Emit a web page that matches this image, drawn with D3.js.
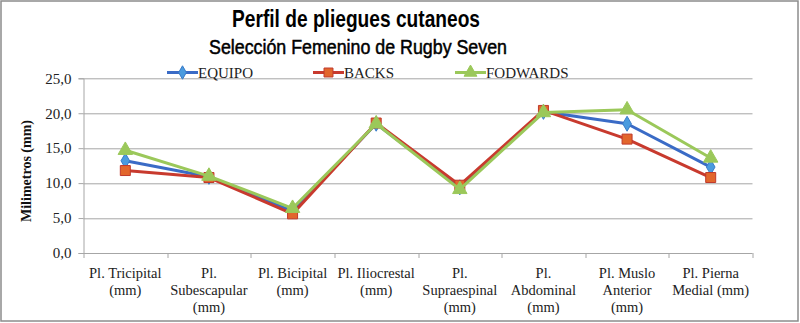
<!DOCTYPE html>
<html>
<head>
<meta charset="utf-8">
<script src="https://cdn.jsdelivr.net/npm/d3@7"></script>
<style>
  html, body { margin: 0; padding: 0; background: #fff; }
  svg { display: block; }
</style>
</head>
<body>
<svg id="chart" width="800" height="323"></svg>
<script>
// Skinfold measurements (mm) per site and group
const categories = [
  "Pl. Tricipital (mm)", "Pl. Subescapular (mm)", "Pl. Bicipital (mm)",
  "Pl. Iliocrestal (mm)", "Pl. Supraespinal (mm)", "Pl. Abdominal (mm)",
  "Pl. Muslo Anterior (mm)", "Pl. Pierna Medial (mm)"
];
const categoryLines = [
  ["Pl. Tricipital", "(mm)"],
  ["Pl.", "Subescapular", "(mm)"],
  ["Pl. Bicipital", "(mm)"],
  ["Pl. Iliocrestal", "(mm)"],
  ["Pl.", "Supraespinal", "(mm)"],
  ["Pl.", "Abdominal", "(mm)"],
  ["Pl. Muslo", "Anterior", "(mm)"],
  ["Pl. Pierna", "Medial (mm)"]
];
const equipo   = [13.2, 10.9, 6.0, 18.5, 9.4, 20.2, 18.5, 12.3];
const backs    = [11.8, 10.8, 5.6, 18.6, 9.7, 20.4, 16.3, 10.8];
const fodwards = [14.7, 11.0, 6.4, 18.5, 9.1, 20.1, 20.5, 13.6];
const yTicks = [0, 5, 10, 15, 20, 25];

const series = [
  { name: "EQUIPO",   values: equipo,   line: "#3A6BC6", fill: "#4A9BDF", stroke: "#3A7BC8", marker: "diamond" },
  { name: "BACKS",    values: backs,    line: "#C83A2E", fill: "#E2662C", stroke: "#C0392B", marker: "square" },
  { name: "FODWARDS", values: fodwards, line: "#9BC85A", fill: "#9BC85A", stroke: "#9BC85A", marker: "triangle" }
];

const serif = "'Liberation Serif', 'Times New Roman', serif";
const sans = "'Liberation Sans', Arial, sans-serif";

const svg = d3.select("#chart");
const W = 800, H = 323;
const margin = { left: 83.5, right: 47.5, top: 78.3, bottom: 70 };
const plotW = W - margin.left - margin.right;
const plotH = H - margin.top - margin.bottom;

// Outer chart frame
svg.append("rect")
  .attr("x", 1).attr("y", 1).attr("width", W - 3).attr("height", H - 3)
  .attr("fill", "#fff").attr("stroke", "#8c8c8c").attr("stroke-width", 1.5);

const x = d3.scaleBand().domain(categories).range([0, plotW]);
const y = d3.scaleLinear().domain([0, 25]).range([plotH, 0]);

const g = svg.append("g").attr("transform", `translate(${margin.left},${margin.top})`);

// Horizontal gridlines
g.append("g").selectAll("line").data(yTicks.filter(d => d > 0)).join("line")
  .attr("x1", 0).attr("x2", plotW)
  .attr("y1", d => Math.round(y(d)) + 0.5).attr("y2", d => Math.round(y(d)) + 0.5)
  .attr("stroke", "#a6a6a6").attr("stroke-width", 1);

// Y axis
const yAxis = g.append("g")
  .call(d3.axisLeft(y).tickValues(yTicks).tickSize(5).tickPadding(7)
    .tickFormat(d => d3.format(".1f")(d).replace(".", ",")));
yAxis.select(".domain").attr("stroke", "#a6a6a6");
yAxis.selectAll(".tick line").attr("stroke", "#a6a6a6");
yAxis.selectAll(".tick text")
  .attr("font-family", serif).attr("font-size", 15).attr("fill", "#222");

// X axis with ticks at band boundaries
const xAxisG = g.append("g").attr("transform", `translate(0,${plotH})`);
xAxisG.append("line").attr("x1", 0).attr("x2", plotW).attr("y1", 0.5).attr("y2", 0.5)
  .attr("stroke", "#a6a6a6");
const bounds = categories.map(c => x(c)).concat([plotW]);
xAxisG.selectAll("line.tk").data(bounds).join("line").attr("class", "tk")
  .attr("x1", d => Math.round(d) + 0.5).attr("x2", d => Math.round(d) + 0.5)
  .attr("y1", 0).attr("y2", 5).attr("stroke", "#a6a6a6");

const labels = xAxisG.selectAll("text.cat").data(categories).join("text").attr("class", "cat")
  .attr("x", d => x(d) + x.bandwidth() / 2)
  .attr("y", 25)
  .attr("text-anchor", "middle")
  .attr("font-family", serif).attr("font-size", 14.5).attr("fill", "#222");
labels.each(function (d, i) {
  d3.select(this).selectAll("tspan").data(categoryLines[i]).join("tspan")
    .attr("x", x(d) + x.bandwidth() / 2)
    .attr("dy", (t, j) => j === 0 ? 0 : 17)
    .text(t => t);
});

// Y axis title
svg.append("text")
  .attr("transform", `translate(31,171) rotate(-90)`)
  .attr("text-anchor", "middle")
  .attr("font-family", serif)
  .attr("font-weight", "bold").attr("font-size", 14).attr("fill", "#111")
  .text("Milimetros (mm)");

// Titles (condensed sans)
svg.append("text")
  .attr("x", 356).attr("y", 27).attr("text-anchor", "middle")
  .attr("font-family", sans)
  .attr("font-weight", "bold").attr("font-size", 24).attr("fill", "#000")
  .attr("textLength", 248).attr("lengthAdjust", "spacingAndGlyphs")
  .text("Perfil de pliegues cutaneos");
svg.append("text")
  .attr("x", 358).attr("y", 54).attr("text-anchor", "middle")
  .attr("font-family", sans)
  .attr("font-size", 20).attr("fill", "#000")
  .attr("stroke", "#000").attr("stroke-width", 0.5)
  .attr("textLength", 298).attr("lengthAdjust", "spacingAndGlyphs")
  .text("Selección Femenino de Rugby Seven");

const symbolFor = { diamond: d3.symbolDiamond, square: d3.symbolSquare, triangle: d3.symbolTriangle };
const sizeFor = { diamond: 65, square: 100, triangle: 90 };

// Series lines and markers
const line = d3.line().x((v, i) => x(categories[i]) + x.bandwidth() / 2).y(v => y(v));
series.forEach(s => {
  g.append("path").datum(s.values)
    .attr("d", line).attr("fill", "none")
    .attr("stroke", s.line).attr("stroke-width", 3).attr("stroke-linejoin", "round");
  g.append("g").selectAll("path").data(s.values).join("path")
    .attr("transform", (v, i) => `translate(${x(categories[i]) + x.bandwidth() / 2},${y(v)})`)
    .attr("d", d3.symbol().type(symbolFor[s.marker]).size(sizeFor[s.marker]))
    .attr("fill", s.fill).attr("stroke", s.stroke).attr("stroke-width", 1);
});

// Legend
const legendPos = [167, 313, 455];
const legend = svg.append("g").selectAll("g").data(series).join("g")
  .attr("transform", (s, i) => `translate(${legendPos[i]},72.5)`);
legend.append("line").attr("x1", 0).attr("x2", 31).attr("y1", 0).attr("y2", 0)
  .attr("stroke", s => s.line).attr("stroke-width", 3);
legend.append("path")
  .attr("transform", "translate(15.5,0)")
  .attr("d", s => d3.symbol().type(symbolFor[s.marker]).size(sizeFor[s.marker] * 0.8)())
  .attr("fill", s => s.fill).attr("stroke", s => s.stroke);
legend.append("text").attr("x", 31).attr("y", 5)
  .attr("font-family", serif)
  .attr("font-size", 15).attr("fill", "#222")
  .text(s => s.name);
</script>
</body>
</html>
